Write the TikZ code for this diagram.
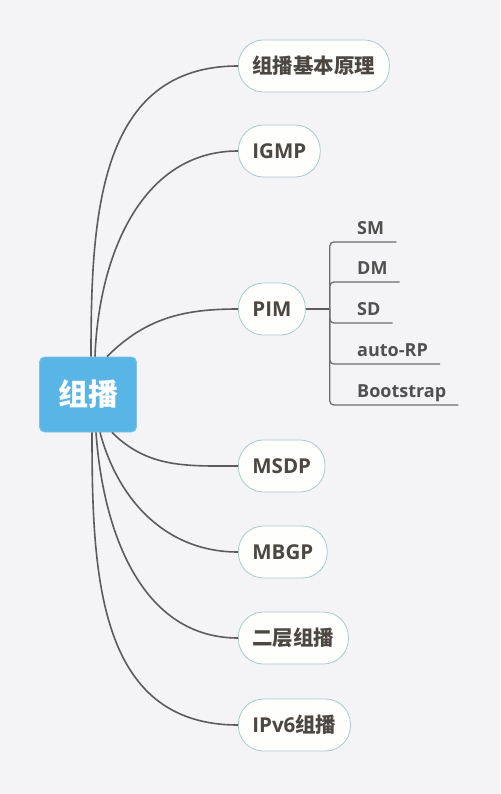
\documentclass[tikz,border=0pt]{standalone}
\usepackage{fontspec}
\setmainfont{Open Sans}
\newfontfamily\cjk{Noto Sans CJK SC}
\usetikzlibrary{calc}

\definecolor{paper}{HTML}{F4F4F6}
\definecolor{rootBlue}{HTML}{58B5E5}
\definecolor{rootEdge}{HTML}{7CC4EC}
\definecolor{topicFill}{HTML}{FEFEFC}
\definecolor{topicEdge}{HTML}{A8CACB}
\definecolor{topicText}{HTML}{4C4741}
\definecolor{branchGray}{HTML}{5C5C5C}
\definecolor{subText}{HTML}{505050}

\begin{document}
\begin{tikzpicture} [x=1pt, y=-1pt,
  root/.style={draw=rootEdge, fill=rootBlue, line width=0.8pt, rounded corners=5pt, minimum width=97pt, minimum height=75pt, text=white, font=\cjk\bfseries\fontsize{30}{32}\selectfont},
  topic/.style={draw=topicEdge, fill=topicFill, line width=0.8pt, rounded corners=25pt, minimum height=52pt, inner xsep=14pt, anchor=west, text=topicText, font=\bfseries\fontsize{20.5}{24}\selectfont},
  sub/.style={anchor=south west, inner sep=0pt, text depth=7pt, text=subText, font=\bfseries\fontsize{18}{20}\selectfont},
  branch/.style={draw=branchGray, line width=1.6pt},
  twig/.style={draw=branchGray!90, line width=1.3pt, rounded corners=4pt}]

\useasboundingbox[fill=paper] (0,0) rectangle (500,794);

\node[root] (mc) at (88,394.5) {组播};

\node[topic] (basic)  at (238,66)  {\cjk 组播基本原理};
\node[topic] (igmp)   at (238,151) {IGMP};
\node[topic] (pim)    at (238,309) {PIM};
\node[topic] (msdp)   at (238,466) {MSDP};
\node[topic] (mbgp)   at (238,552) {MBGP};
\node[topic] (layer2) at (238,638) {\cjk 二层组播};
\node[topic] (ipv6)   at (238,725) {IPv6\cjk 组播};

% branches above the root
\draw[branch] ([xshift=3pt]mc.north) to[out=90, in=180, looseness=1.1] (basic.west);
\draw[branch] ([xshift=7pt]mc.north) to[out=88, in=180] (igmp.west);
\draw[branch] ([xshift=19pt]mc.north) to[out=45, in=180] (pim.west);
% branches below the root
\draw[branch] ([xshift=24pt]mc.south) to[out=-45, in=180] (msdp.west);
\draw[branch] ([xshift=12pt]mc.south) to[out=-75, in=180] (mbgp.west);
\draw[branch] ([xshift=8pt]mc.south) to[out=-86, in=180] (layer2.west);
\draw[branch] ([xshift=4pt]mc.south) to[out=-90, in=180, looseness=1.1] (ipv6.west);

% PIM modes
\coordinate (pimjn) at ($(pim.east)+(24,0)$);
\draw[branch] (pim.east) -- (pimjn);
\foreach \nm/\txt/\y in {sm/SM/242, dm/DM/282, sd/SD/323, autorp/auto-RP/364, bsr/Bootstrap/405} {
  \node[sub] (\nm) at (357,\y) {\txt};
  \draw[twig] (pimjn) |- (\nm.south west) -- ([xshift=12pt]\nm.south east);
}

\end{tikzpicture}
\end{document}
